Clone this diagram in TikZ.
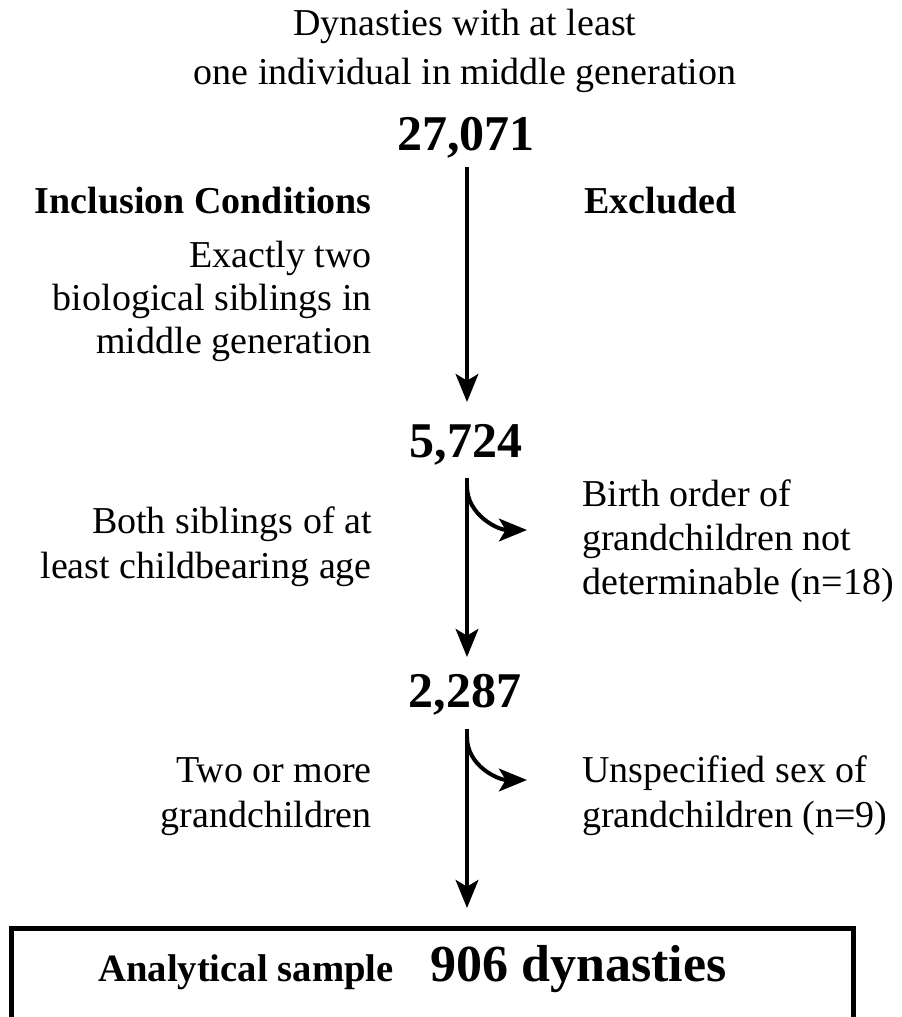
\documentclass[tikz,border=0pt]{standalone}
\usepackage{fontspec}
\setmainfont{Liberation Serif}
\usetikzlibrary{arrows.meta}
\begin{document}
\begin{tikzpicture}[x=0.75pt,y=-0.75pt,
  txt/.style={font=\fontsize{28.5}{34}\selectfont, inner sep=0pt},
  hdr/.style={font=\fontsize{28.5}{34}\bfseries\selectfont, inner sep=0pt},
  num/.style={font=\fontsize{37.5}{45}\bfseries\selectfont, inner sep=0pt},
  flow/.style={line width=3pt, -{Stealth[length=21pt,width=17pt,inset=5pt]}},
  branch/.style={line width=3pt, -{Stealth[length=21pt,width=17pt,inset=5pt]}},
  finalbox/.style={draw, line width=3.5pt, inner sep=0pt, anchor=north west},
]
\useasboundingbox (0,0) rectangle (902,1017);
\clip (0,0) rectangle (902,1017);

% title
\node[txt, anchor=base] (t1) at (465,35) {Dynasties with at least};
\node[txt, anchor=base] (t2) at (465,84) {one individual in middle generation};
\node[num, anchor=base] (n1) at (466,150) {27,071};

% headers
\node[hdr, anchor=base east] (hinc) at (372,213) {Inclusion Conditions};
\node[hdr, anchor=base west] (hexc) at (584,213) {Excluded};

% condition 1
\node[txt, anchor=base east] (c1a) at (372,267) {Exactly two};
\node[txt, anchor=base east] (c1b) at (372,310) {biological siblings in};
\node[txt, anchor=base east] (c1c) at (372,353) {middle generation};

\node[num, anchor=base] (n2) at (466,457) {5,724};

% condition 2
\node[txt, anchor=base east] (c2a) at (372,533) {Both siblings of at};
\node[txt, anchor=base east] (c2b) at (372,578) {least childbearing age};
\node[txt, anchor=base west] (e1a) at (582,506) {Birth order of};
\node[txt, anchor=base west] (e1b) at (582,550) {grandchildren not};
\node[txt, anchor=base west] (e1c) at (582,594) {determinable (n=18)};

\node[num, anchor=base] (n3) at (465,707) {2,287};

% condition 3
\node[txt, anchor=base east] (c3a) at (372,782) {Two or more};
\node[txt, anchor=base east] (c3b) at (372,827) {grandchildren};
\node[txt, anchor=base west] (e2a) at (582,782) {Unspecified sex of};
\node[txt, anchor=base west] (e2b) at (582,827) {grandchildren (n=9)};

% final box
\node[finalbox, minimum width=631.5pt, minimum height=100pt] (box) at (9,926) {};
\node[hdr, font=\fontsize{29}{34}\bfseries\selectfont, anchor=base west] (bl) at (98,981) {Analytical sample};
\node[num, font=\fontsize{39}{47}\bfseries\selectfont, anchor=base west] (br) at (430,981) {906 dynasties};

% connectors
\coordinate (s1) at (467,167);
\coordinate (e1) at (467,402);
\coordinate (s2) at (467,478);
\coordinate (e2) at (467,657);
\coordinate (s3) at (467,729);
\coordinate (e3) at (467,908);
\coordinate (b1) at (467,486);
\coordinate (x1) at (527,530);
\coordinate (b2) at (467,737);
\coordinate (x2) at (527,780);

\draw[flow] (s1) -- (e1);
\draw[flow] (s2) -- (e2);
\draw[flow] (s3) -- (e3);
\draw[branch] (b1) to[out=-90,in=180] (x1);
\draw[branch] (b2) to[out=-90,in=180] (x2);
\end{tikzpicture}
\end{document}
